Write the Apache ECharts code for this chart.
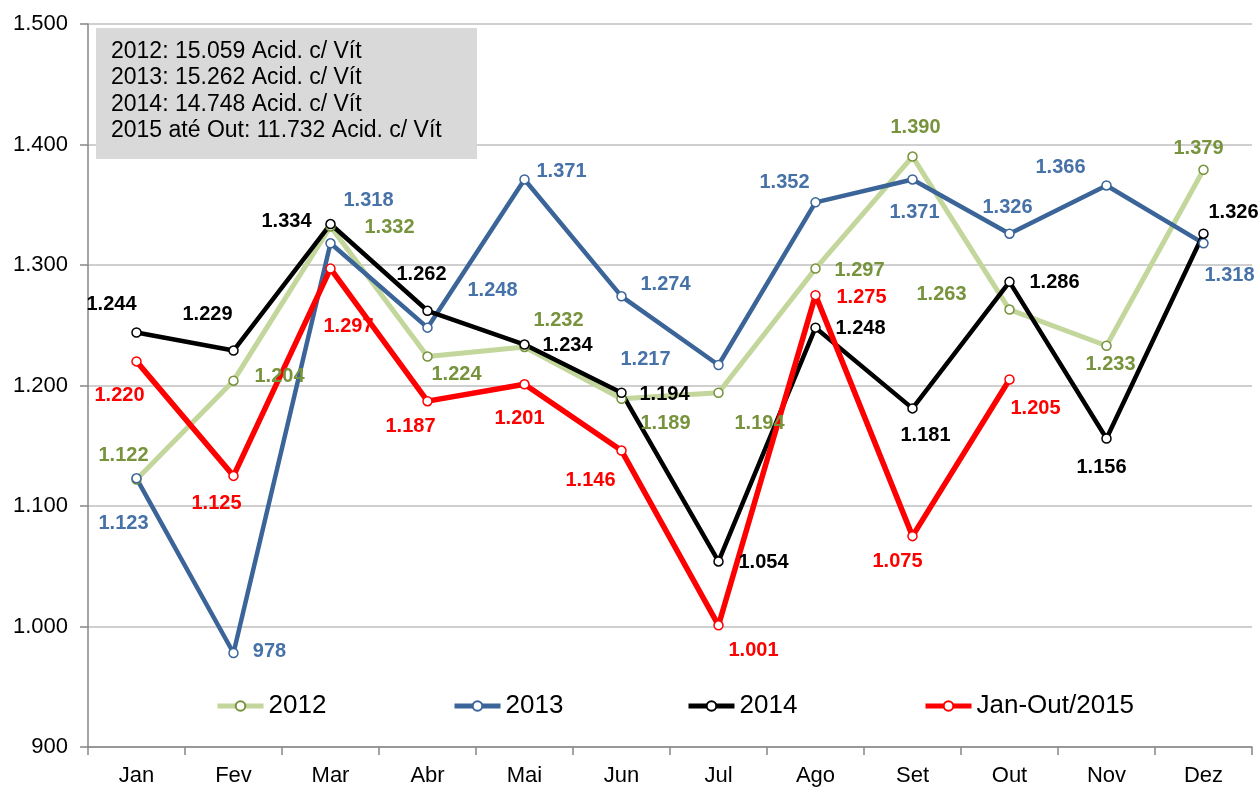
<!DOCTYPE html>
<html>
<head>
<meta charset="utf-8">
<script src="https://cdn.jsdelivr.net/npm/echarts@6/dist/echarts.min.js"></script>
<style>
  html, body { margin: 0; padding: 0; background: #fff; }
  #chart { width: 1258px; height: 787px; }
</style>
</head>
<body>
<div id="chart"></div>
<script>
const months = ['Jan', 'Fev', 'Mar', 'Abr', 'Mai', 'Jun', 'Jul', 'Ago', 'Set', 'Out', 'Nov', 'Dez']
const yTicks = [900, 1000, 1100, 1200, 1300, 1400, 1500]

const seriesNames = ['2012', '2013', '2014', 'Jan-Out/2015']
const values2012 = [1122, 1204, 1332, 1224, 1232, 1189, 1194, 1297, 1390, 1263, 1233, 1379]
const values2013 = [1123, 978, 1318, 1248, 1371, 1274, 1217, 1352, 1371, 1326, 1366, 1318]
const values2014 = [1244, 1229, 1334, 1262, 1234, 1194, 1054, 1248, 1181, 1286, 1156, 1326]
const values2015 = [1220, 1125, 1297, 1187, 1201, 1146, 1001, 1275, 1075, 1205]

const noteLines = [
  '2012: 15.059 Acid. c/ Vít',
  '2013: 15.262 Acid. c/ Vít',
  '2014: 14.748 Acid. c/ Vít',
  '2015 até Out: 11.732 Acid. c/ Vít'
]

// where each data label sits, relative to its point (px)
const offsets2012 = [[-13, -24], [46, -4], [59, 1], [29, 18], [34, -26], [44, 25], [41, 31], [44, 2], [3, -29], [-68, -15], [4, 19], [-5, -21]]
const offsets2013 = [[-13, 45], [36, -2], [38, -43], [65, -37], [37, -8], [44, -12], [-73, -6], [-31, -20], [2, 33], [-2, -26], [-46, -18], [26, 32]]
const offsets2014 = [[-25, -28], [-26, -36], [-44, -3], [-6, -36], [43, 1], [43, 2], [45, 1], [45, 1], [13, 27], [45, 1], [-5, 29], [30, -21]]
const offsets2015 = [[-17, 34], [-17, 28], [18, 58], [-17, 25], [-5, 34], [-31, 30], [35, 25], [46, 2], [-15, 25], [26, 29]]

const FONT = "'Liberation Sans', Arial, sans-serif"

function fmt(v) {
  if (v < 1000) return String(v)
  return Math.floor(v / 1000) + '.' + String(v % 1000).padStart(3, '0')
}

function makeSeries(name, values, offsets, lineColor, lineWidth, dotColor, labelColor) {
  return {
    name: name,
    type: 'line',
    data: values.map((v, i) => ({ value: v, label: { offset: offsets[i] } })),
    symbol: 'circle',
    symbolSize: 9,
    lineStyle: { color: lineColor, width: lineWidth },
    itemStyle: { color: '#ffffff', borderColor: dotColor, borderWidth: 1.5 },
    label: {
      show: true,
      position: 'inside',
      align: 'center',
      verticalAlign: 'middle',
      formatter: p => fmt(p.value),
      color: labelColor,
      fontFamily: FONT,
      fontWeight: 'bold',
      fontSize: 20
    },
    emphasis: { disabled: true }
  }
}

const chart = echarts.init(document.getElementById('chart'))

const legendLefts = [215, 452, 686, 923]

const option = {
  animation: false,
  backgroundColor: '#ffffff',
  grid: { left: 88, right: 6, top: 24, bottom: 37 },
  legend: seriesNames.map((n, i) => ({
    data: [n],
    left: legendLefts[i],
    top: 693,
    padding: 0,
    itemWidth: 46,
    itemHeight: 12,
    itemGap: 0,
    itemTextGap: 2,
    lineStyle: { width: 5 },
    textStyle: { fontFamily: FONT, fontSize: 26, color: '#000' }
  })),
  xAxis: {
    type: 'category',
    data: months,
    boundaryGap: true,
    axisLine: { lineStyle: { color: '#868686', width: 1.5 } },
    axisTick: { show: true, length: 8, lineStyle: { color: '#868686', width: 1.5 } },
    axisLabel: { fontFamily: FONT, fontSize: 22, color: '#000', margin: 18 }
  },
  yAxis: {
    type: 'value',
    min: yTicks[0],
    max: yTicks[yTicks.length - 1],
    interval: 100,
    axisLine: { show: true, lineStyle: { color: '#868686', width: 1.5 } },
    axisTick: { show: true, length: 8, lineStyle: { color: '#868686', width: 1.5 } },
    axisLabel: { fontFamily: FONT, fontSize: 22, color: '#000', margin: 20, formatter: v => fmt(v) },
    splitLine: { lineStyle: { color: '#BFBFBF', width: 1.5 } }
  },
  graphic: [
    {
      type: 'rect',
      left: 96,
      top: 28,
      shape: { width: 381, height: 131 },
      style: { fill: '#D9D9D9' },
      z: 100
    },
    {
      type: 'text',
      left: 111,
      top: 38,
      style: {
        text: noteLines.join('\n'),
        font: '23px ' + FONT,
        lineHeight: 26.5,
        fill: '#000'
      },
      z: 101
    }
  ],
  series: [
    makeSeries(seriesNames[0], values2012, offsets2012, '#C3D69B', 5, '#77933C', '#77933C'),
    makeSeries(seriesNames[1], values2013, offsets2013, '#3B6598', 4.5, '#3B6598', '#4672A8'),
    makeSeries(seriesNames[2], values2014, offsets2014, '#000000', 4.5, '#000000', '#000000'),
    makeSeries(seriesNames[3], values2015, offsets2015, '#FF0000', 5.5, '#FF0000', '#FF0000')
  ]
}

chart.setOption(option)
</script>
</body>
</html>
